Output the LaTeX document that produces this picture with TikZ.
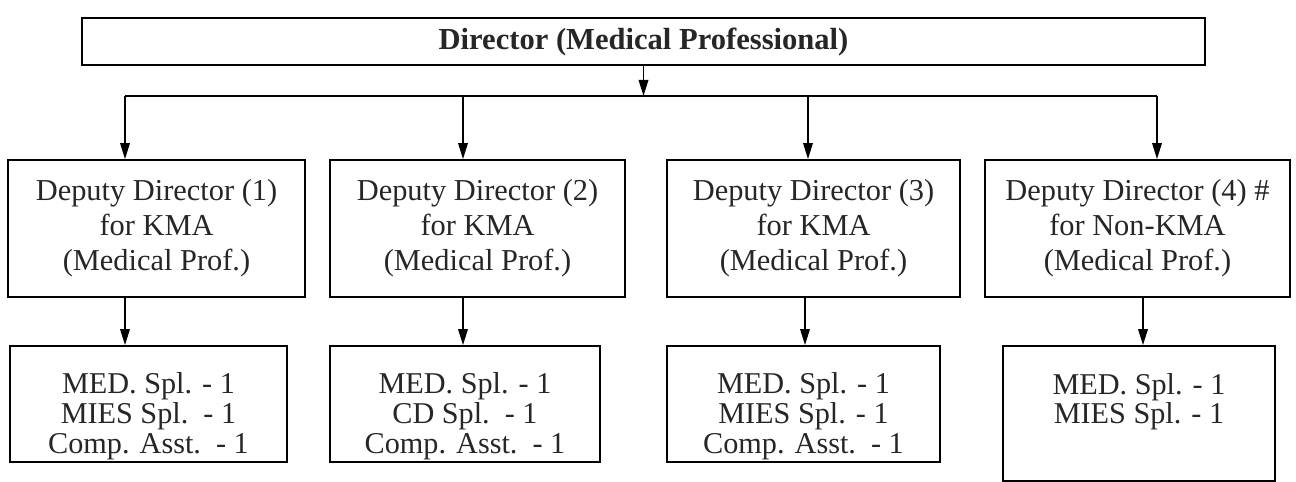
\documentclass[tikz,border=0pt]{standalone}
\usepackage{fontspec}
\setmainfont{Liberation Serif}
\usetikzlibrary{arrows.meta}

\newcommand{\topgap}{\rule{0pt}{26pt}}

\begin{document}
\begin{tikzpicture}[x=0.02cm, y=-0.02cm, line width=1pt, text=black!85,
    >={Triangle[length=0.32cm,width=0.19cm]},
    deputy/.style={draw, align=center, inner sep=0pt, minimum height=2.74cm,
      font=\fontsize{17.3}{20}\selectfont},
    staff/.style={draw, align=center, inner sep=0pt, minimum height=2.32cm,
      font=\fontsize{17.2}{17}\selectfont}]
  \useasboundingbox (0,0) rectangle (1296,482);

  \node [draw, minimum width=22.46cm, minimum height=0.94cm,
    font=\fontsize{17.4}{20}\selectfont\bfseries] (dir) at (643.5,41.5) {Director (Medical Professional)};

  % deputies
  \node [deputy, minimum width=5.94cm] (d1) at (156.5,228.5) {Deputy Director (1)\\for KMA\\(Medical Prof.)};
  \node [deputy, minimum width=5.9cm] (d2) at (477.5,228.5) {Deputy Director (2)\\for KMA\\(Medical Prof.)};
  \node [deputy, minimum width=5.86cm] (d3) at (813.5,228.5) {Deputy Director (3)\\for KMA\\(Medical Prof.)};
  \node [deputy, minimum width=6.1cm] (d4) at (1137.5,228.5) {Deputy Director (4) \#\\for Non-KMA\\(Medical Prof.)};

  % staff under each deputy
  \node [staff, minimum width=5.54cm] (b1) at (148.5,404) {\topgap MED. Spl. - 1\\MIES Spl.\ \ - 1\\Comp. Asst.\ \ - 1};
  \node [staff, minimum width=5.4cm] (b2) at (465,404) {\topgap MED. Spl. - 1\\CD Spl.\ \ - 1\\Comp. Asst.\ \ - 1};
  \node [staff, minimum width=5.46cm] (b3) at (803.5,404) {\topgap MED. Spl. - 1\\MIES Spl. - 1\\Comp. Asst.\ \ - 1};
  \node [staff, minimum width=5.44cm, minimum height=2.7cm] (b4) at (1139,413.5) {MED. Spl. - 1\\MIES Spl. - 1\\~};

  \coordinate (barL) at (125,96);
  \coordinate (barR) at (1157,96);
  \draw (barL) -- (barR);
  \draw [->] (dir.south) -- (dir.south |- barL);

  \foreach \n/\x in {1/125, 2/463, 3/808, 4/1157} {
    \coordinate (t\n) at (\x,96);
    \draw [->] (t\n) -- (t\n |- d\n.north);
  }
  \foreach \n/\x in {1/125, 2/463, 3/805, 4/1143} {
    \coordinate (s\n) at (\x,0);
    \draw [->] (s\n |- d\n.south) -- (s\n |- b\n.north);
  }
\end{tikzpicture}
\end{document}
